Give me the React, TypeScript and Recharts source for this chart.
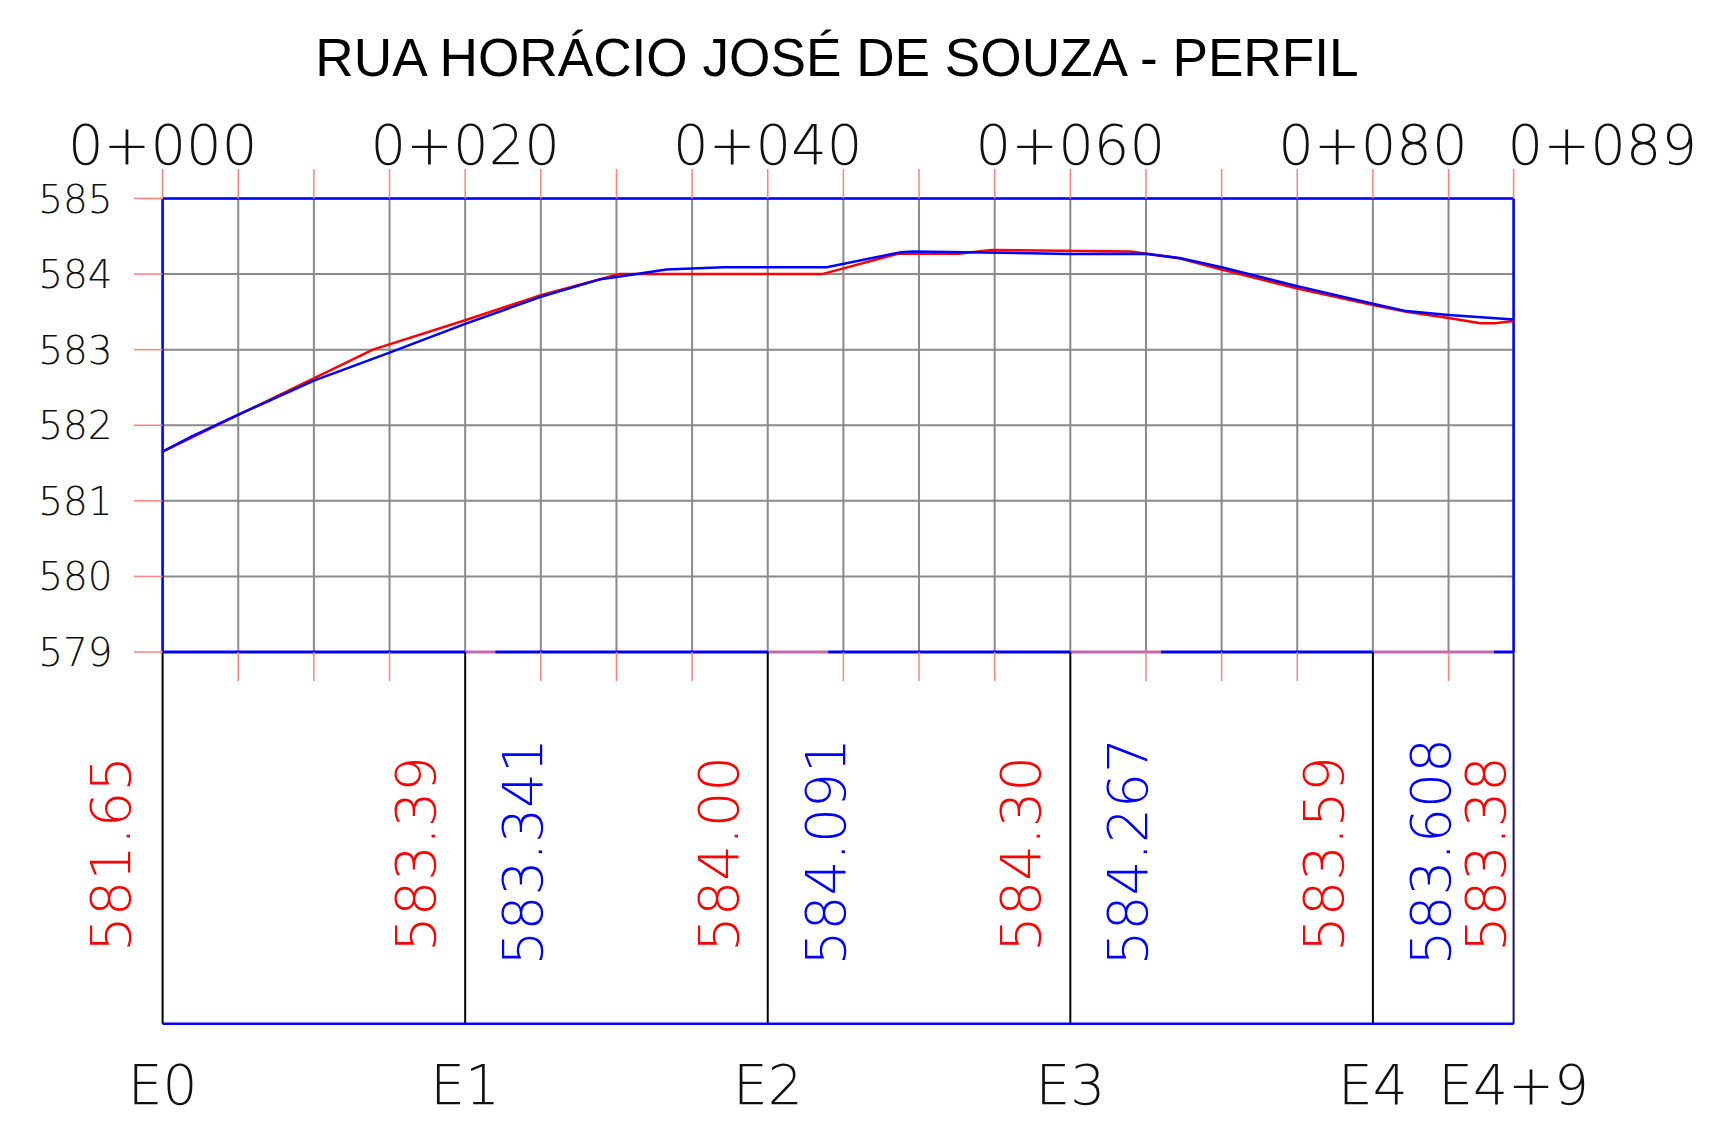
import { ComposedChart, Line, XAxis, YAxis, CartesianGrid, ReferenceLine } from 'recharts';

const title = 'RUA HORÁCIO JOSÉ DE SOUZA - PERFIL';

// terreno natural (vermelho)
const terrainStations = [0, 13.9, 20, 25, 30.2, 43.6, 48.6, 52.6, 54.8, 64, 65, 67.2, 70, 75, 80, 82.2, 85, 87.1, 88.1, 89.3];
const terrainElev = [581.65, 583.0, 583.39, 583.72, 584.0, 584.0, 584.27, 584.27, 584.32, 584.3, 584.27, 584.21, 584.06, 583.81, 583.59, 583.5, 583.42, 583.35, 583.35, 583.38];

// greide projetado (azul)
const gradeStations = [0, 1.9, 5, 10, 15, 20, 25, 28.9, 30, 33.3, 37.1, 40, 43.9, 48.8, 49.6, 60, 65, 67.3, 70, 75, 80, 82.2, 85, 89.3];
const gradeElev = [581.65, 581.85, 582.14, 582.59, 582.96, 583.341, 583.7, 583.93, 583.96, 584.06, 584.09, 584.091, 584.09, 584.29, 584.3, 584.267, 584.27, 584.21, 584.09, 583.84, 583.608, 583.51, 583.46, 583.4];

const gridStations = [0, 5, 10, 15, 20, 25, 30, 35, 40, 45, 50, 55, 60, 65, 70, 75, 80, 85, 89.3];
const elevTicks = [579, 580, 581, 582, 583, 584, 585];

const stakeStations = [0, 20, 40, 60, 80, 89.3];
const stakeNames = ['E0', 'E1', 'E2', 'E3', 'E4', 'E4+9'];
const chainageLabels = ['0+000', '0+020', '0+040', '0+060', '0+080', '0+089'];
const terrainLabels = ['581.65', '583.39', '584.00', '584.30', '583.59', '583.38'];
const gradeLabelStations = [20, 40, 60, 80];
const gradeLabels = ['583.341', '584.091', '584.267', '583.608'];
// trechos da linha de base onde a cota vermelha se sobrepõe
const overlapSegments = [[20, 22], [40, 44], [60, 66], [80, 88]];
const baseSegments = [[0, 20], [22, 40], [44, 60], [66, 80], [88, 89.3]];

const terrain = terrainStations.map((s, i) => ({ station: s, elev: terrainElev[i] }));
const grade = gradeStations.map((s, i) => ({ station: s, elev: gradeElev[i] }));

const END = 89.3;
const CAD_FONT = '"DejaVu Sans", sans-serif';
const TICK_RED = '#ff8080';
const BOX_H = 371.7;

function TopTick({ x, y, payload }: any) {
  const i = stakeStations.indexOf(payload.value);
  const last = i === stakeStations.length - 1;
  return (
    <g>
      <line x1={x} x2={x} y1={y - 29.5} y2={y} stroke={TICK_RED} strokeWidth={1.5} />
      {i >= 0 && (
        <text x={last ? x - 6 : x} y={y - 35} textAnchor={last ? 'start' : 'middle'}
          fontFamily={CAD_FONT} fontWeight={200} fontSize={56} fill="#111">
          {chainageLabels[i]}
        </text>
      )}
    </g>
  );
}

function BottomTick({ x, y, payload }: any) {
  const i = stakeStations.indexOf(payload.value);
  return (
    <g>
      {i < 0 && <line x1={x} x2={x} y1={y} y2={y + 29} stroke={TICK_RED} strokeWidth={1.5} />}
      {i >= 0 && (
        <text x={x} y={y + 452} textAnchor="middle" fontFamily={CAD_FONT} fontWeight={200} fontSize={55} fill="#111">
          {stakeNames[i]}
        </text>
      )}
    </g>
  );
}

function LeftTick({ x, y, payload }: any) {
  return (
    <g>
      <line x1={x - 28.6} x2={x} y1={y} y2={y} stroke={TICK_RED} strokeWidth={1.5} />
      <text x={x - 50} y={y + 14} textAnchor="end" fontFamily={CAD_FONT} fontWeight={200} fontSize={39} fill="#111">
        {payload.value}
      </text>
    </g>
  );
}

function RightTick({ x, y, payload }: any) {
  return (
    <g>
      <line x1={x} x2={x + 29} y1={y} y2={y} stroke={TICK_RED} strokeWidth={1.5} />
      <text x={x + 47} y={y + 14} textAnchor="start" fontFamily={CAD_FONT} fontWeight={200} fontSize={39} fill="#111">
        {payload.value}
      </text>
    </g>
  );
}

// linha da estaca na caixa inferior + cotas giradas
const stakeShape = (idx: number) => (props: any) => {
  const { x1, y1, y2 } = props;
  const base = Math.max(y1, y2);
  const s = stakeStations[idx];
  const last = idx === stakeStations.length - 1;
  const g = gradeLabelStations.indexOf(s);
  const redX = x1 - (last ? 8.6 : idx === 0 ? 33 : 30);
  return (
    <g>
      <line x1={x1} x2={x1} y1={base} y2={base + BOX_H} stroke={last ? '#14146e' : '#000'} strokeWidth={2} />
      <text transform={`translate(${redX},${base + 300}) rotate(-90)`} fontFamily={CAD_FONT} fontWeight={200}
        fontSize={56} fill="#ff0000">
        {terrainLabels[idx]}
      </text>
      {g >= 0 && (
        <text transform={`translate(${x1 + 77},${base + 313.5}) rotate(-90)`} fontFamily={CAD_FONT} fontWeight={200}
          fontSize={55} fill="#0000ff">
          {gradeLabels[g]}
        </text>
      )}
    </g>
  );
};

const boxBottomShape = (props: any) => {
  const { x1, x2, y1 } = props;
  return <line x1={x1} x2={x2} y1={y1 + BOX_H} y2={y1 + BOX_H} stroke="#0000ff" strokeWidth={2.5} />;
};

export default function App() {
  return (
    <div style={{ position: 'absolute', left: 0, top: 0, width: 1713, height: 1137, background: '#fff' }}>
      <svg width={1713} height={110} style={{ position: 'absolute', left: 0, top: 0 }}>
        <text x={837} y={75.5} textAnchor="middle" fontFamily='"Liberation Sans", Arial, sans-serif' fontSize={53.2} fill="#000">
          {title}
        </text>
      </svg>
      <ComposedChart width={1713} height={1137} margin={{ top: 138.5, right: 69.4, bottom: 25, left: 32.6 }}>
        <XAxis xAxisId="top" orientation="top" type="number" dataKey="station" domain={[0, END]} ticks={gridStations}
          interval={0} height={60} tickSize={0} tickMargin={0} axisLine={false} tickLine={false} tick={<TopTick />} />
        <XAxis xAxisId="bottom" orientation="bottom" type="number" dataKey="station" domain={[0, END]} ticks={gridStations}
          interval={0} height={460} tickSize={0} tickMargin={0} axisLine={false} tickLine={false} tick={<BottomTick />} />
        <YAxis yAxisId="l" orientation="left" type="number" domain={[579, 585]} ticks={elevTicks} interval={0}
          width={130} tickSize={0} tickMargin={0} axisLine={false} tickLine={false} tick={<LeftTick />} />
        <YAxis yAxisId="r" orientation="right" type="number" domain={[579, 585]} ticks={elevTicks} interval={0}
          width={130} tickSize={0} tickMargin={0} axisLine={false} tickLine={false} tick={<RightTick />} />
        <CartesianGrid xAxisId="top" yAxisId="l" stroke="#8a8a8a" strokeWidth={2} />

        {overlapSegments.map(([a, b], i) => (
          <ReferenceLine key={`ov${i}`} xAxisId="top" yAxisId="l" segment={[{ x: a, y: 579 }, { x: b, y: 579 }]}
            stroke="#c46aa8" strokeWidth={3} />
        ))}
        {baseSegments.map(([a, b], i) => (
          <ReferenceLine key={`bs${i}`} xAxisId="top" yAxisId="l" segment={[{ x: a, y: 579 }, { x: b, y: 579 }]}
            stroke="#0000ff" strokeWidth={3} />
        ))}
        <ReferenceLine xAxisId="top" yAxisId="l" y={585} stroke="#0000ff" strokeWidth={2.5} />
        <ReferenceLine xAxisId="top" yAxisId="l" x={0} stroke="#0000ff" strokeWidth={2.5} />
        <ReferenceLine xAxisId="top" yAxisId="l" x={END} stroke="#0000ff" strokeWidth={2.5} />

        {stakeStations.map((s, i) => (
          <ReferenceLine key={`st${i}`} xAxisId="top" yAxisId="l" x={s} ifOverflow="visible" shape={stakeShape(i)} />
        ))}
        <ReferenceLine xAxisId="top" yAxisId="l" segment={[{ x: 0, y: 579 }, { x: END, y: 579 }]} ifOverflow="visible"
          shape={boxBottomShape} />

        <Line xAxisId="bottom" yAxisId="l" data={terrain} dataKey="elev" type="linear" stroke="#ff0000" strokeWidth={2.5}
          dot={false} activeDot={false} isAnimationActive={false} />
        <Line xAxisId="top" yAxisId="l" data={grade} dataKey="elev" type="linear" stroke="#0000ff" strokeWidth={2.5}
          dot={false} activeDot={false} isAnimationActive={false} />
      </ComposedChart>
    </div>
  );
}
